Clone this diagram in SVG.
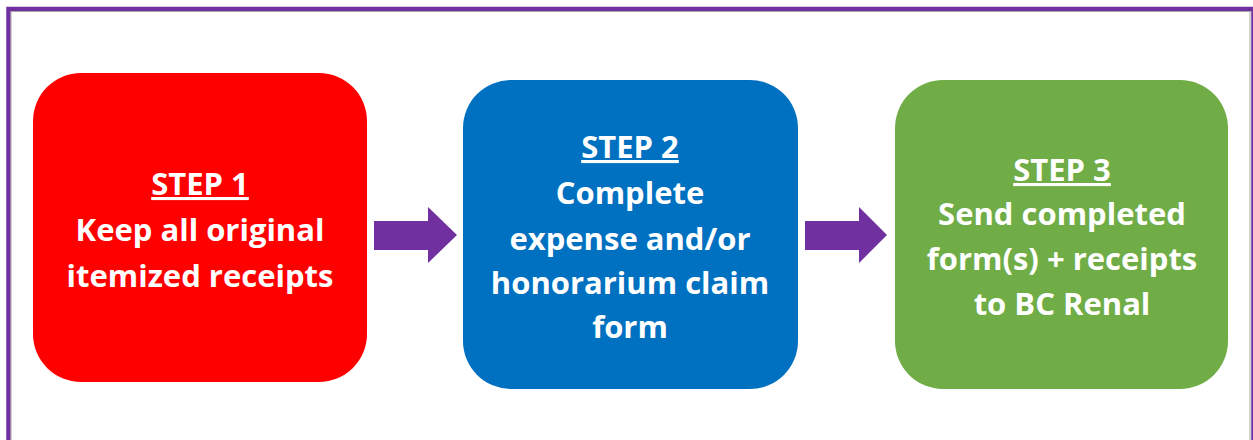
<svg xmlns="http://www.w3.org/2000/svg" width="1253" height="440" viewBox="0 0 1253 440">
<style>
.t{font-family:"Open Sans",Lato,"Liberation Sans",sans-serif;font-weight:bold;font-size:31px;fill:#fff;text-anchor:middle}
.u{text-decoration:underline}
.arr{fill:#7030A0}
</style>
<rect x="0" y="0" width="1253" height="440" fill="#fff"/>
<rect x="8.5" y="9" width="1245" height="440" fill="none" stroke="#7030A0" stroke-width="4.5"/>
<rect x="11" y="11.5" width="1239" height="440" fill="none" stroke="#a6a6a6" stroke-width="1"/>
<g id="step1">
<rect x="33" y="73" width="334" height="309" rx="48" fill="#FF0000"/>
<text class="t" x="200"><tspan class="u" x="200" y="195">STEP 1</tspan><tspan x="200" y="241">Keep all original</tspan><tspan x="200" y="287">itemized receipts</tspan></text>
</g>
<g id="step2">
<rect x="463" y="80" width="335" height="309" rx="48" fill="#0070C0"/>
<text class="t" x="630"><tspan class="u" x="630" y="158">STEP 2</tspan><tspan x="630" y="204">Complete</tspan><tspan x="630" y="250">expense and/or</tspan><tspan x="630" y="294">honorarium claim</tspan><tspan x="630" y="338">form</tspan></text>
</g>
<g id="step3">
<rect x="895" y="80" width="333" height="309" rx="48" fill="#70AD47"/>
<text class="t" x="1062"><tspan class="u" x="1062" y="181">STEP 3</tspan><tspan x="1062" y="225">Send completed</tspan><tspan x="1062" y="270">form(s) + receipts</tspan><tspan x="1062" y="315">to BC Renal</tspan></text>
</g>
<g id="connectors">
<polygon class="arr" points="374,221 428,221 428,207 457,235 428,263 428,250 374,250"/>
<polygon class="arr" points="805,221 859,221 859,207 887,235 859,263 859,250 805,250"/>
</g>
</svg>
